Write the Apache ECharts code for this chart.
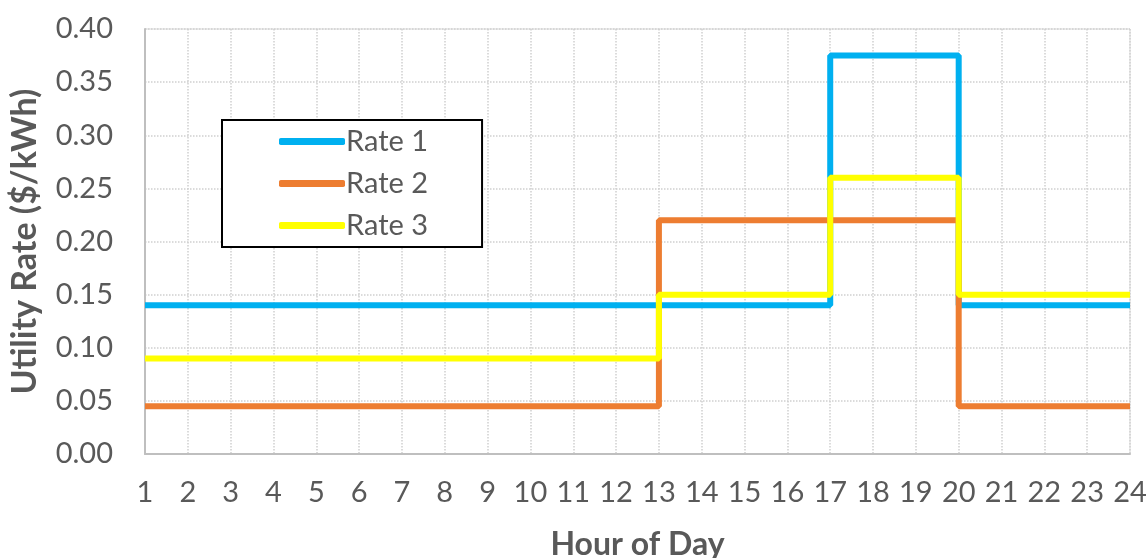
<!DOCTYPE html>
<html>
<head>
<meta charset="utf-8">
<script src="https://cdn.jsdelivr.net/npm/echarts@6/dist/echarts.min.js"></script>
<style>
    html, body { margin: 0; padding: 0; background: #fff; }
    #chart { width: 1147px; height: 558px; }
</style>
</head>
<body>
<div id="chart"></div>
<script>
// hours 1..24, value at hour h holds until h+1 (step: 'end')
const hours = [1, 2, 3, 4, 5, 6, 7, 8, 9, 10, 11, 12, 13, 14, 15, 16, 17, 18, 19, 20, 21, 22, 23, 24];
const rate1 = [0.14, 0.14, 0.14, 0.14, 0.14, 0.14, 0.14, 0.14, 0.14, 0.14, 0.14, 0.14,
    0.14, 0.14, 0.14, 0.14, 0.375, 0.375, 0.375, 0.14, 0.14, 0.14, 0.14, 0.14];
const rate2 = [0.045, 0.045, 0.045, 0.045, 0.045, 0.045, 0.045, 0.045, 0.045, 0.045, 0.045, 0.045,
    0.22, 0.22, 0.22, 0.22, 0.22, 0.22, 0.22, 0.045, 0.045, 0.045, 0.045, 0.045];
const rate3 = [0.09, 0.09, 0.09, 0.09, 0.09, 0.09, 0.09, 0.09, 0.09, 0.09, 0.09, 0.09,
    0.15, 0.15, 0.15, 0.15, 0.26, 0.26, 0.26, 0.15, 0.15, 0.15, 0.15, 0.15];
const seriesNames = ['Rate 1', 'Rate 2', 'Rate 3'];

const textColor = '#595959';
const font = 'Lato, "Open Sans", sans-serif';

function pairs(vals) {
    return hours.map((h, i) => [h, vals[i]]);
}

let myChart = echarts.init(document.getElementById('chart'));

let option = {
    animation: false,
    color: ['#00B0F0', '#ED7D31', '#FFFF00'],
    textStyle: { fontFamily: font },
    grid: {
        left: 145,
        right: 17,
        top: 29,
        bottom: 104,
        outerBoundsMode: 'none',
        containLabel: false,
        show: true,
        borderColor: '#d9d9d9',
        borderWidth: 1
    },
    legend: {
        data: seriesNames,
        orient: 'vertical',
        left: 222,
        top: 120,
        icon: 'roundRect',
        itemWidth: 66,
        itemHeight: 7,
        itemGap: 13,
        padding: [7, 54, 7, 57],
        borderColor: '#000',
        borderWidth: 2,
        backgroundColor: '#fff',
        textStyle: { fontSize: 29, color: textColor, fontFamily: font, padding: [0, 0, 0, -4] }
    },
    xAxis: {
        type: 'value',
        min: 1,
        max: 24,
        interval: 1,
        name: 'Hour of Day',
        nameLocation: 'middle',
        nameGap: 75,
        nameTextStyle: { fontSize: 32, fontWeight: 'bold', color: textColor, fontFamily: font },
        axisLine: { show: true, lineStyle: { color: '#bfbfbf', width: 2 } },
        axisTick: { show: false },
        axisLabel: { fontSize: 29, color: textColor, margin: 24 },
        splitLine: { show: true, lineStyle: { color: '#d0d0d0', type: 'dotted', width: 1.5 } }
    },
    yAxis: {
        type: 'value',
        min: 0,
        max: 0.4,
        interval: 0.05,
        name: 'Utility Rate ($/kWh)',
        nameLocation: 'middle',
        nameGap: 103,
        nameTextStyle: { fontSize: 34, fontWeight: 'bold', color: textColor, fontFamily: font },
        axisLine: { show: true, lineStyle: { color: '#bfbfbf', width: 2 } },
        axisTick: { show: false },
        axisLabel: {
            fontSize: 29,
            color: textColor,
            margin: 32,
            formatter: v => v.toFixed(2)
        },
        splitLine: { show: true, lineStyle: { color: '#d0d0d0', type: 'dotted', width: 1.5 } }
    },
    series: [
        { name: seriesNames[0], type: 'line', step: 'end', data: pairs(rate1), showSymbol: false, symbol: 'none', lineStyle: { width: 6 } },
        { name: seriesNames[1], type: 'line', step: 'end', data: pairs(rate2), showSymbol: false, symbol: 'none', lineStyle: { width: 6 } },
        { name: seriesNames[2], type: 'line', step: 'end', data: pairs(rate3), showSymbol: false, symbol: 'none', lineStyle: { width: 6 } }
    ]
};
myChart.setOption(option);
</script>
</body>
</html>
